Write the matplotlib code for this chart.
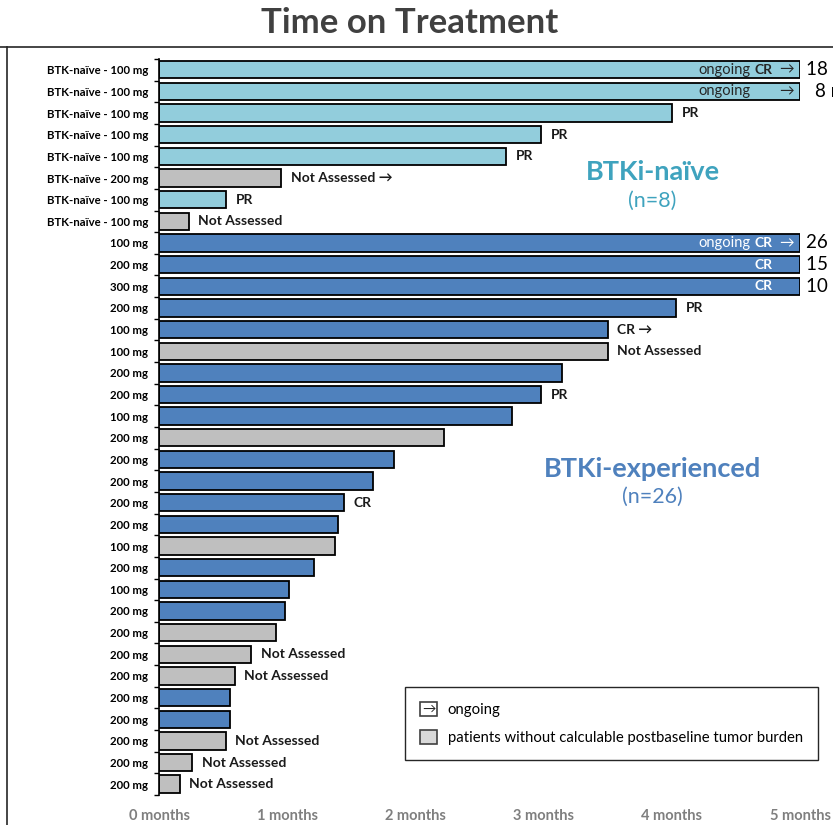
import numpy as np
import matplotlib.pyplot as plt
from matplotlib.lines import Line2D
from matplotlib.patches import Patch, Rectangle
from matplotlib.text import Text
from matplotlib.legend_handler import HandlerBase

plt.rcParams['font.family'] = ['Lato', 'DejaVu Sans']

# one row per patient, top to bottom
dose_labels = (['BTK-naïve - 100 mg'] * 5 + ['BTK-naïve - 200 mg'] + ['BTK-naïve - 100 mg'] * 2 +
               ['100 mg', '200 mg', '300 mg', '200 mg', '100 mg', '100 mg', '200 mg', '200 mg',
                '100 mg', '200 mg', '200 mg', '200 mg', '200 mg', '200 mg', '100 mg', '200 mg',
                '100 mg', '200 mg', '200 mg', '200 mg', '200 mg', '200 mg', '200 mg', '200 mg',
                '200 mg', '200 mg'])
months = [18, 8, 4.0, 2.98, 2.71, 0.95, 0.52, 0.23,
          26, 15, 10, 4.03, 3.5, 3.5, 3.14, 2.98, 2.75, 2.22, 1.83, 1.67, 1.44, 1.4, 1.37,
          1.21, 1.01, 0.98, 0.91, 0.72, 0.59, 0.55, 0.55, 0.52, 0.26, 0.16]
naive = [True] * 8 + [False] * 26
assessed = [True, True, True, True, True, False, True, False,
            True, True, True, True, True, False, True, True, True, False, True, True, True, True,
            False, True, True, True, False, False, False, True, True, False, False, False]
response = ['CR', '', 'PR', 'PR', 'PR', 'Not Assessed', 'PR', 'Not Assessed',
            'CR', 'CR', 'CR', 'PR', 'CR', 'Not Assessed', '', 'PR', '', '', '', '', 'CR', '', '',
            '', '', '', '', 'Not Assessed', 'Not Assessed', '', '', 'Not Assessed', 'Not Assessed',
            'Not Assessed']
ongoing = [True, True, False, False, False, True, False, False,
           True, False, False, False, True] + [False] * 21

xmax = 5
light_blue = '#92CDDC'
dark_blue = '#4F81BD'
grey = '#BFBFBF'


class ArrowBoxHandler(HandlerBase):
    def create_artists(self, legend, orig_handle, xdescent, ydescent, width, height, fontsize, trans):
        box = Rectangle((-xdescent, -ydescent), width, height, facecolor='white',
                        edgecolor='#404040', linewidth=1.2, transform=trans)
        arrow = Text(width / 2 - xdescent, height / 2 - ydescent, '→', ha='center', va='center',
                     fontsize=fontsize * 0.9, color='#262626', transform=trans)
        return [box, arrow]


fig = plt.figure(figsize=(8.33, 8.25), dpi=100)
ax = fig.add_axes([0.1909, 0.0364, 0.7695, 0.8921])

y = np.arange(len(months))
colors = [(light_blue if n else dark_blue) if a else grey for n, a in zip(naive, assessed)]
ax.barh(y, np.minimum(months, xmax), height=0.8, color=colors, edgecolor='black', linewidth=1.3)

for i, m in enumerate(months):
    if m > xmax:
        tc = '#262626' if naive[i] else 'white'
        if ongoing[i]:
            ax.annotate('ongoing', (xmax, i), xytext=(-36, 0), textcoords='offset points',
                        ha='right', va='center', fontsize=10.5, color=tc)
            ax.annotate('→', (xmax, i), xytext=(-4.5, 0), textcoords='offset points',
                        ha='right', va='center', fontsize=10.5, color=tc)
        if response[i]:
            ax.annotate(response[i], (xmax, i), xytext=(-19.5, 0), textcoords='offset points',
                        ha='right', va='center', fontsize=10, fontweight='bold', color=tc)
        shift = 4 if m >= 10 else 10.5
        ax.annotate(f'{m} months', (xmax, i), xytext=(shift, 0), textcoords='offset points',
                    ha='left', va='center', fontsize=13.5, color='black', annotation_clip=False)
    elif response[i]:
        label = response[i] + (' →' if ongoing[i] else '')
        ax.annotate(label, (m, i), xytext=(7, 0), textcoords='offset points',
                    ha='left', va='center', fontsize=10, fontweight='bold', color='#1a1a1a')

ax.text(3.85, 4.7, 'BTKi-naïve', ha='center', va='center', fontsize=19.5, fontweight='bold',
        color='#3FA3BE')
ax.text(3.85, 6.05, '(n=8)', ha='center', va='center', fontsize=15.5, color='#3FA3BE')
ax.text(3.85, 18.45, 'BTKi-experienced', ha='center', va='center', fontsize=19.5,
        fontweight='bold', color=dark_blue)
ax.text(3.85, 19.75, '(n=26)', ha='center', va='center', fontsize=15.5, color=dark_blue)

ax.set_xlim(0, xmax)
ax.set_ylim(len(months) - 0.5, -0.5)
ax.set_xticks(range(xmax + 1))
ax.set_xticklabels([f'{k} months' for k in range(xmax + 1)], fontsize=10.5, fontweight='bold',
                   color='#7F7F7F')
ax.tick_params(axis='x', length=0, pad=10)
ax.set_yticks(y)
ax.set_yticklabels(dose_labels, fontsize=8.2, fontweight='bold')
ax.tick_params(axis='y', which='major', length=0, pad=8)
ax.set_yticks(np.arange(len(months) + 1) - 0.5, minor=True)
ax.tick_params(axis='y', which='minor', length=3.5, width=1, direction='out')
for side in ['top', 'right', 'bottom']:
    ax.spines[side].set_visible(False)
ax.spines['left'].set_linewidth(1.2)

handles = [Patch(facecolor='white', edgecolor='#404040'),
           Patch(facecolor='#D9D9D9', edgecolor='#404040', linewidth=1.2)]
leg = ax.legend(handles, ['ongoing', 'patients without calculable postbaseline tumor burden'],
                handler_map={handles[0]: ArrowBoxHandler()}, loc='lower left',
                bbox_to_anchor=(0.384, 0.0476), borderaxespad=0, fontsize=10.7,
                handlelength=1.15, handleheight=1.15, labelspacing=0.85, fancybox=False,
                edgecolor='#262626', framealpha=1, borderpad=1.0, handletextpad=0.7)
leg.get_frame().set_linewidth(1.0)

fig.text(0.492, 0.972, 'Time on Treatment', ha='center', va='center', fontsize=25,
         fontweight='bold', color='#404040')

# outer frame
fig.add_artist(Line2D([0, 1], [1 - 47 / 825] * 2, color='#262626', lw=1.2))
fig.add_artist(Line2D([7 / 833] * 2, [0, 1 - 47 / 825], color='#262626', lw=1.2))

fig.savefig('out.png', dpi=100)
